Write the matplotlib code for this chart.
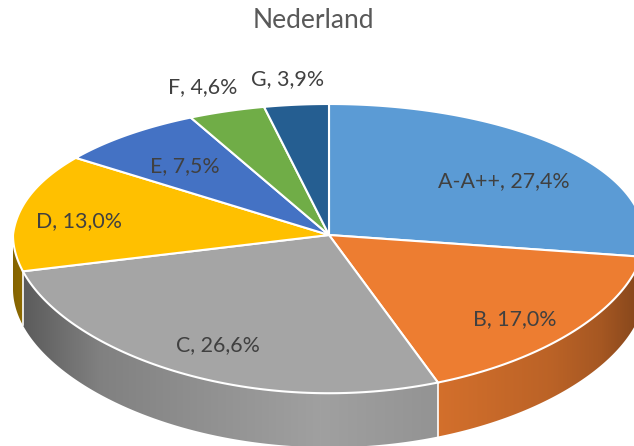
import numpy as np
import matplotlib
matplotlib.use('Agg')
import matplotlib.pyplot as plt
from matplotlib.patches import Polygon

categories = ['A-A++', 'B', 'C', 'D', 'E', 'F', 'G']
values = [27.4, 17.0, 26.6, 13.0, 7.5, 4.6, 3.9]
title = 'Nederland'

colors = ['#5B9BD5', '#ED7D31', '#A5A5A5', '#FFC000', '#4472C4', '#70AD47', '#255E91']
label_pos = [(504, 181), (515, 319), (218, 345), (79, 221), (185, 166), (203, 87), (288, 79)]

# pie geometry in pixels
CX, CY = 329, 235
RX = 316
RY_BACK, RY_FRONT = 131, 142.4
PERSP = 0.1
DEPTH = 54
FONT = 'Lato'

# wall shading: brightness against x pixel
SHADE_X = [13, 22, 100, 200, 320, 440, 550, 600, 634]
SHADE_F = [0.52, 0.55, 0.78, 0.87, 0.97, 0.89, 0.79, 0.70, 0.58]


def rim(t):
    # t in radians, clockwise from the top, with perspective
    deg = np.degrees(t)
    t = np.radians(deg + np.interp(deg, [302, 329, 346, 360], [0, 2.2, 1, 0]))
    c = np.cos(t)
    x = CX + RX * np.sin(t) / (1 + 0.1 * np.maximum(c, 0))
    back = RY_BACK * np.maximum(c, 0) ** 0.85
    front = RY_FRONT * np.maximum(-c, 0) / (1 + PERSP * c)
    return x, CY - back + front


fig = plt.figure(figsize=(6.34, 4.46), dpi=100)
ax = fig.add_axes([0, 0, 1, 1])

edges = np.radians(np.concatenate([[0], np.cumsum(values)]) * 3.6)

# side wall first, a gradient clipped to the wall outline
for i, color in enumerate(colors):
    lo = max(edges[i], np.pi / 2)
    hi = min(edges[i + 1], 1.5 * np.pi)
    if hi <= lo:
        continue
    xs, ys = rim(np.linspace(lo, hi, 200))
    outline = np.r_[np.column_stack([xs, ys]), np.column_stack([xs, ys + DEPTH])[::-1]]
    patch = Polygon(outline, closed=True, facecolor='none', edgecolor='none', transform=ax.transData)
    ax.add_patch(patch)
    grad_x = np.arange(0, 650)
    rgb = np.array(matplotlib.colors.to_rgb(color))
    grad = np.outer(np.interp(grad_x, SHADE_X, SHADE_F), rgb)[None, :, :]
    im = ax.imshow(grad, extent=(0, 650, 446, 0), aspect='auto', zorder=1, interpolation='bilinear')
    im.set_clip_path(patch)

# white lines where visible wall segments meet
for e in edges[1:-1]:
    if np.pi / 2 < e < 1.5 * np.pi:
        x, y = rim(e)
        ax.plot([x, x], [y, y + DEPTH], color='white', lw=1.2, zorder=2)

# top surface
for i, color in enumerate(colors):
    ts = np.linspace(edges[i], edges[i + 1], 120)
    xs, ys = rim(ts)
    pts = np.column_stack([np.r_[CX, xs], np.r_[CY, ys]])
    ax.add_patch(Polygon(pts, closed=True, facecolor=color, edgecolor='white',
                         lw=1.5, joinstyle='miter', zorder=3))

for cat, val, (x, y) in zip(categories, values, label_pos):
    txt = '{}, {:.1f}%'.format(cat, val).replace('.', ',')
    ax.text(x, y, txt, ha='center', va='center', fontsize=15.4, color='#404040',
            family=FONT, zorder=4)

ax.text(313, 21, title, ha='center', va='center', fontsize=19, color='#595959', family=FONT)

ax.set_xlim(0, 634)
ax.set_ylim(446, 0)
ax.axis('off')

fig.savefig('out.png', dpi=100)
